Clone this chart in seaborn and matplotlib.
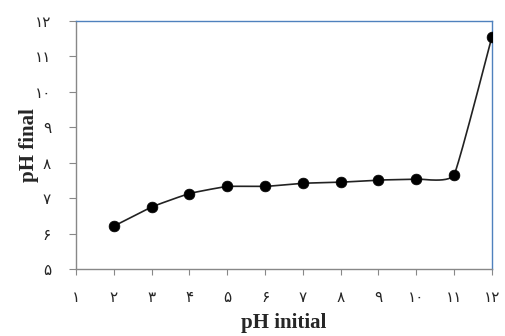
import numpy as np
import pandas as pd
import matplotlib
matplotlib.use("Agg")
import matplotlib.pyplot as plt
import seaborn as sns

ph_initial = [2, 3, 4, 5, 6, 7, 8, 9, 10, 11, 12]
ph_final = [6.21, 6.75, 7.13, 7.33, 7.33, 7.42, 7.45, 7.51, 7.54, 7.66, 11.55]
x_ticks = list(range(1, 13))
y_ticks = list(range(5, 13))
persian = "۰۱۲۳۴۵۶۷۸۹"

def fa(n):
    return "".join(persian[int(c)] for c in str(n))

sns.set_theme(style="white")
plt.rcParams['font.family'] = ['DejaVu Sans']

df = pd.DataFrame({"x": ph_initial, "y": ph_final})

# Smooth line drawn through the points (Bezier with short handles)
px = np.array(ph_initial, float)
py = np.array(ph_final, float)
P = np.column_stack([px, py])
ext = np.vstack([P[0], P, P[-1]])
sx, sy = [], []
k = 16.0
for i in range(1, len(ext) - 2):
    p0, p1, p2, p3 = ext[i - 1], ext[i], ext[i + 1], ext[i + 2]
    t = np.linspace(0, 1, 30)[:, None]
    c1 = p1 + (p2 - p0) / k
    c2 = p2 - (p3 - p1) / k
    b = (1 - t) ** 3 * p1 + 3 * (1 - t) ** 2 * t * c1 + 3 * (1 - t) * t ** 2 * c2 + t ** 3 * p2
    sx.extend(b[:, 0]); sy.extend(b[:, 1])
smooth = pd.DataFrame({"x": sx, "y": sy})

fig = plt.figure(figsize=(5.05, 3.36), dpi=100)
ax = fig.add_axes([0.1505, 0.1994, 0.8235, 0.7381])
sns.lineplot(data=smooth, x="x", y="y", ax=ax, color="#222222", linewidth=1.2, sort=False, estimator=None)
sns.scatterplot(data=df, x="x", y="y", ax=ax, color="black", s=60, edgecolor="black", linewidth=0.5, zorder=5)

ax.set_xlim(1, 12)
ax.set_ylim(5, 12)
ax.set_xticks(x_ticks)
ax.set_xticklabels([fa(v) for v in x_ticks])
ax.set_yticks(y_ticks)
ax.set_yticklabels([fa(v) for v in y_ticks])
ax.tick_params(axis="x", direction="out", length=4, width=0.8, color="#888888", pad=11, labelsize=11)
ax.tick_params(axis="y", direction="out", length=5, width=0.8, color="#888888", pad=13, labelsize=11)
ax.tick_params(bottom=True, left=True)

for s in ["left", "bottom"]:
    ax.spines[s].set_color("#888888")
    ax.spines[s].set_linewidth(1.0)
for s in ["top", "right"]:
    ax.spines[s].set_color("#4f81bd")
    ax.spines[s].set_linewidth(1.0)

ax.set_xlabel("pH initial", fontfamily="Liberation Serif", fontweight="bold", fontsize=15, labelpad=6)
ax.set_ylabel("pH final", fontfamily="Liberation Serif", fontweight="bold", fontsize=15, labelpad=-3)

fig.savefig("out.png", dpi=100)
